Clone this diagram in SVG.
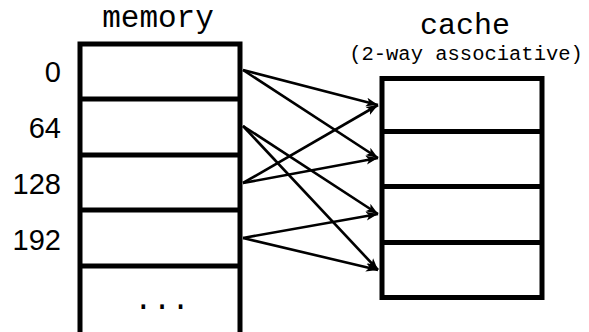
<svg xmlns="http://www.w3.org/2000/svg" width="589" height="332" viewBox="0 0 589 332">
  <style>
    .box { fill: none; stroke: #000; stroke-width: 5; }
    .div { stroke: #000; stroke-width: 5; }
    .mono { font-family: "Liberation Mono", "DejaVu Sans Mono", monospace; fill: #000; }
    .addr { font-family: "Liberation Sans", Arial, sans-serif; font-size: 29px; fill: #000; text-anchor: end; }
    .link { stroke: #000; stroke-width: 2.6; fill: none; marker-end: url(#head); }
  </style>
  <defs>
    <marker id="head" markerWidth="14" markerHeight="12" refX="12" refY="6" orient="auto" markerUnits="userSpaceOnUse">
      <path d="M0,1.5 L12,6 L0,10.5 L3,6 Z" fill="#000"/>
    </marker>
  </defs>

  <rect width="589" height="332" fill="#fff"/>

  <!-- memory column -->
  <g id="memory">
    <text class="mono" x="158" y="27" font-size="31" text-anchor="middle">memory</text>
    <path class="box" d="M80,340 V44 H240 V340"/>
    <line class="div" x1="80" y1="99" x2="240" y2="99"/>
    <line class="div" x1="80" y1="155" x2="240" y2="155"/>
    <line class="div" x1="80" y1="210" x2="240" y2="210"/>
    <line class="div" x1="80" y1="266" x2="240" y2="266"/>
    <text class="mono" x="162" y="309" font-size="31" text-anchor="middle">...</text>
  </g>

  <!-- block addresses -->
  <g id="addresses">
    <text class="addr" x="61" y="82">0</text>
    <text class="addr" x="61" y="138">64</text>
    <text class="addr" x="61" y="194">128</text>
    <text class="addr" x="61" y="250">192</text>
  </g>

  <!-- cache column -->
  <g id="cache">
    <text class="mono" x="465" y="34" font-size="30" text-anchor="middle">cache</text>
    <text class="mono" x="466" y="60" font-size="20.5" text-anchor="middle">(2-way associative)</text>
    <rect class="box" x="382" y="78.5" width="160" height="219"/>
    <line class="div" x1="382" y1="131.5" x2="542" y2="131.5"/>
    <line class="div" x1="382" y1="186.5" x2="542" y2="186.5"/>
    <line class="div" x1="382" y1="242.5" x2="542" y2="242.5"/>
  </g>

  <!-- block to line mappings -->
  <g id="connectors">
    <line class="link" x1="243" y1="70" x2="378" y2="105"/>
    <line class="link" x1="243" y1="70" x2="378" y2="158"/>
    <line class="link" x1="243" y1="126" x2="378" y2="214"/>
    <line class="link" x1="243" y1="126" x2="378" y2="270"/>
    <line class="link" x1="243" y1="183" x2="378" y2="105"/>
    <line class="link" x1="243" y1="183" x2="378" y2="158"/>
    <line class="link" x1="243" y1="238" x2="378" y2="214"/>
    <line class="link" x1="243" y1="238" x2="378" y2="270"/>
  </g>
</svg>
